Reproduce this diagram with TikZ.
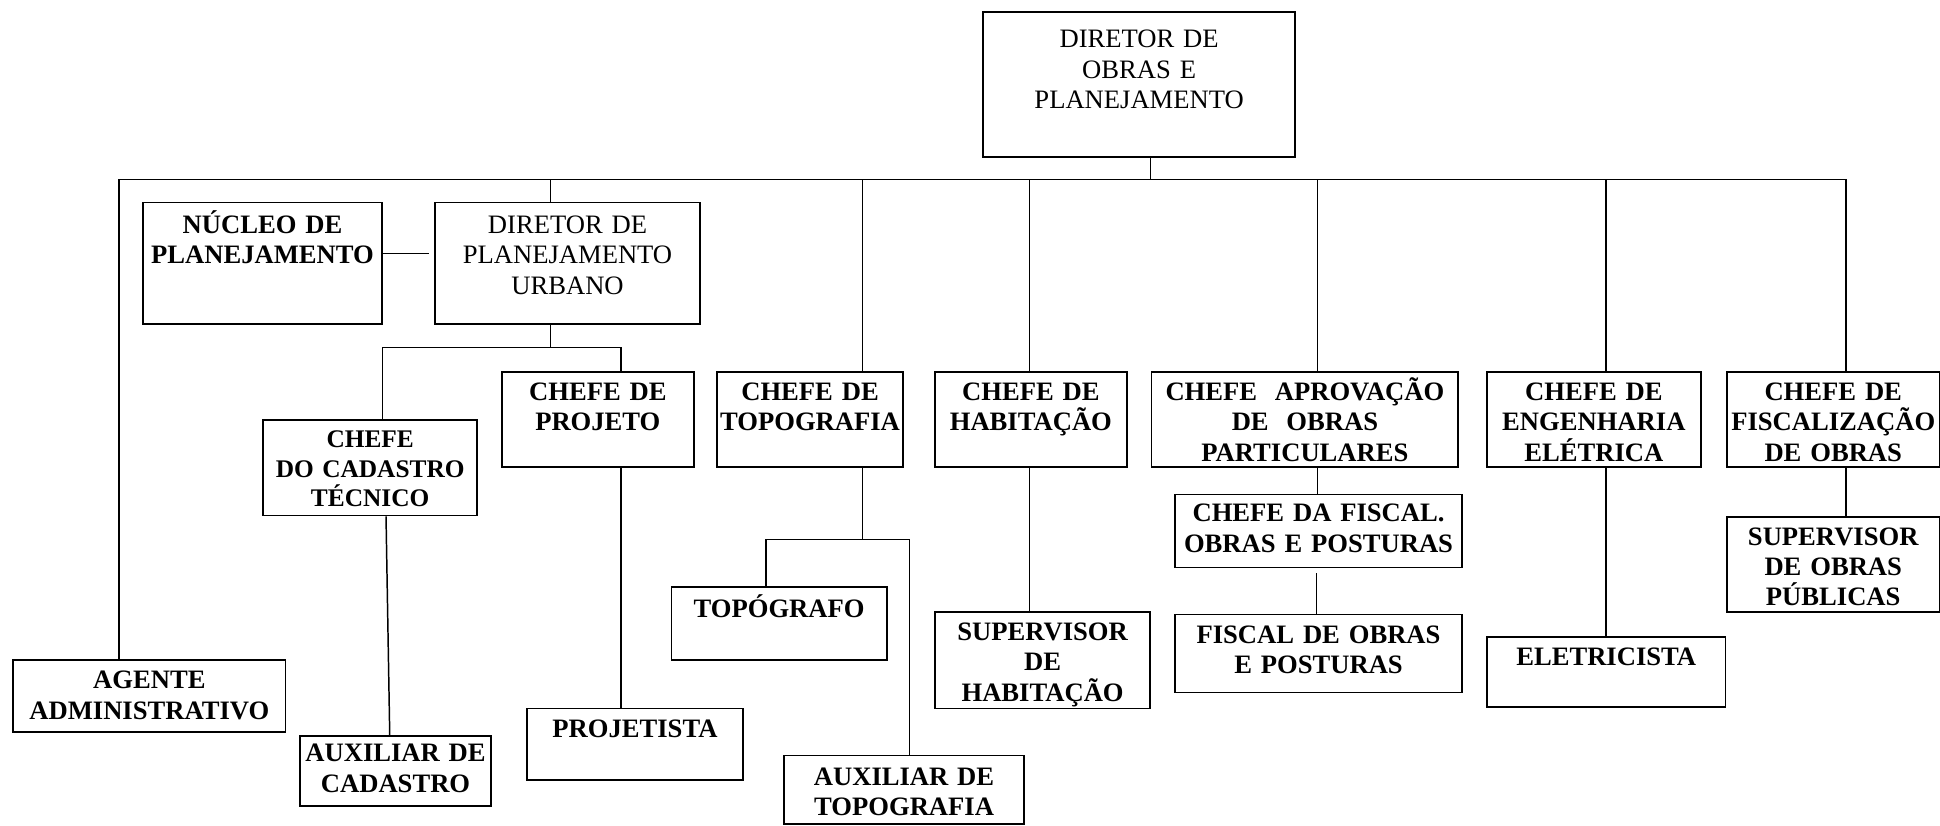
\documentclass[tikz,border=0pt]{standalone}
\usepackage{fontspec}
\setmainfont{Liberation Serif}
\tikzstyle{post}=[draw, line width=1.4pt, inner sep=0pt, align=center, anchor=north west, text height=23pt, font=\fontsize{21.5}{24.5}\selectfont\bfseries]
\tikzstyle{plain post}=[post, font=\fontsize{21.5}{24.5}\selectfont]
\tikzstyle{link}=[line width=1.2pt]

\begin{document}
\begin{tikzpicture}[x=1pt, y=-1pt]
  \useasboundingbox (0,0) rectangle (1568,667);
  % heads
  \node[plain post, text width=252pt, text height=29pt, text depth=88pt] (dirobras) at (794,9) {DIRETOR DE\\OBRAS E\\PLANEJAMENTO};
  \node[post, text width=193pt, text height=25pt, text depth=73pt] (nucleo) at (115,163) {NÚCLEO DE\\PLANEJAMENTO};
  \node[plain post, text width=214pt, text height=25pt, text depth=73pt] (dirplan) at (351,163) {DIRETOR DE\\PLANEJAMENTO\\URBANO};
  % chefes
  \node[post, text width=173pt, text height=22pt, text depth=55pt, font=\fontsize{20.5}{24}\selectfont\bfseries] (cadastro) at (212,339) {CHEFE\\DO CADASTRO\\TÉCNICO};
  \node[post, text width=155pt, text depth=54pt] (projeto) at (405,300) {CHEFE DE\\PROJETO};
  \node[post, text width=150pt, text depth=54pt] (topografia) at (579,300) {CHEFE DE\\TOPOGRAFIA};
  \node[post, text width=155pt, text depth=54pt] (habitacao) at (755,300) {CHEFE DE\\HABITAÇÃO};
  \node[post, text width=248pt, text depth=54pt] (aprovacao) at (930,300) {CHEFE~~APROVAÇÃO\\DE~~OBRAS\\PARTICULARES};
  \node[post, text width=173pt, text depth=54pt] (engenharia) at (1201,300) {CHEFE DE\\ENGENHARIA\\ELÉTRICA};
  \node[post, text width=172pt, text depth=54pt] (fiscalizacao) at (1395,300) {CHEFE DE\\FISCALIZAÇÃO\\DE OBRAS};
  % staff
  \node[post, text width=220pt, text depth=35pt] (agente) at (10,533) {AGENTE\\ADMINISTRATIVO};
  \node[post, text width=154pt, text height=21pt, text depth=36pt] (auxcadastro) at (242,594) {AUXILIAR DE\\CADASTRO};
  \node[post, text width=175pt, text depth=35pt] (projetista) at (425,572) {PROJETISTA};
  \node[post, text width=174pt, text height=24pt, text depth=35pt] (topografo) at (542,474) {TOPÓGRAFO};
  \node[post, text width=194pt, text height=24pt, text depth=31pt] (auxtopo) at (633,610) {AUXILIAR DE\\TOPOGRAFIA};
  \node[post, text width=174pt, text depth=55pt] (suphab) at (755,494) {SUPERVISOR\\DE\\HABITAÇÃO};
  \node[post, text width=232pt, text height=22pt, text depth=37pt] (chefefiscal) at (949,399) {CHEFE DA FISCAL.\\OBRAS E POSTURAS};
  \node[post, text width=232pt, text depth=40pt] (fiscal) at (949,496) {FISCAL DE OBRAS\\E POSTURAS};
  \node[post, text width=193pt, text depth=34pt] (eletricista) at (1201,514) {ELETRICISTA};
  \node[post, text width=172pt, text depth=54pt] (supobras) at (1395,417) {SUPERVISOR\\DE OBRAS\\PÚBLICAS};

  % bus
  \coordinate (bus) at (930,145);
  \draw[link] (dirobras.south -| bus) -- (bus);
  \draw[link] (bus -| 96,0) -- (bus -| 1492,0);
  \foreach \n/\x in {agente/96, dirplan/445, topografia/697, habitacao/832, aprovacao/1065, engenharia/1298, fiscalizacao/1492}
    \draw[link] (bus -| \x,0) -- (\n.north -| \x,0);
  \draw[link, shorten >=4pt] ([yshift=8pt]nucleo.east) -- ([yshift=8pt]nucleo.east -| dirplan.west);
  % planejamento urbano
  \coordinate (plan joint) at (445,281);
  \draw[link] (dirplan.south -| plan joint) -- (plan joint);
  \draw[link] (cadastro.north -| 309,0) |- (plan joint) -| (projeto.north -| 502,0);
  \draw[link] (cadastro.south -| 312,0) -- (auxcadastro.north -| 315,0);
  % topografia
  \coordinate (topo joint) at (697,436);
  \draw[link] (topografia.south -| topo joint) -- (topo joint);
  \draw[link] (topografo.north -| 619,0) |- (topo joint) -| (auxtopo.north -| 735,0);
  \draw[link, shorten <=4pt] (chefefiscal.south -| 1064,0) -- (fiscal.north -| 1064,0);
  \foreach \a/\b/\x in {projeto/projetista/502, habitacao/suphab/832, aprovacao/chefefiscal/1065, engenharia/eletricista/1298, fiscalizacao/supobras/1492}
    \draw[link] (\a.south -| \x,0) -- (\b.north -| \x,0);
\end{tikzpicture}
\end{document}
